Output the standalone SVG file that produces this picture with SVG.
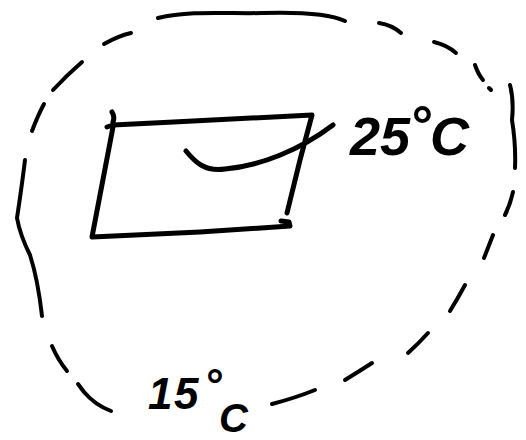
<svg xmlns="http://www.w3.org/2000/svg" width="526" height="440" viewBox="0 0 526 440">
<style>
.ink{fill:none;stroke:#000;stroke-width:5;stroke-linecap:round;stroke-linejoin:round}
.dash{fill:none;stroke:#000;stroke-width:4;stroke-linecap:round;stroke-linejoin:round}
.lbl{font-family:"Liberation Sans",Arial,sans-serif;font-weight:bold;font-style:italic;fill:#000}
</style>
<rect width="526" height="440" fill="#fff"/>
<g id="boundary">
<path class="dash" d="M158,18 C190,10 230,14 262,13 C295,12 328,13 345,21"/>
<path class="dash" d="M379,23 Q392,25 401,33"/>
<path class="dash" d="M434,42 Q447,45 456,53"/>
<path class="dash" d="M475,65 Q478,74 483,80"/>
<path class="dash" d="M489,88 L491,90"/>
<path class="dash" d="M510,85 Q514,100 512,120 Q516,145 515,168"/>
<path class="dash" d="M513,192 Q510,205 505,215"/>
<path class="dash" d="M493,235 L484,258"/>
<path class="dash" d="M465,285 Q458,298 450,311"/>
<path class="dash" d="M428,333 Q418,344 408,353"/>
<path class="dash" d="M372,363 Q358,372 345,380"/>
<path class="dash" d="M315,390 Q295,398 272,404"/>
<path class="dash" d="M111,411 Q95,405 84,392 L78,384"/>
<path class="dash" d="M67,371 Q58,360 52,346"/>
<path class="dash" d="M42,316 Q38,280 30,255 Q20,235 17,218 Q22,185 25,160"/>
<path class="dash" d="M32,131 Q38,115 44,104"/>
<path class="dash" d="M53,90 Q67,75 82,62"/>
<path class="dash" d="M104,44 Q118,36 131,33"/>
</g>
<g id="plate">
<path class="ink" d="M112,112 Q115,117 113,122"/>
<path class="ink" d="M107,127 L113,125 C180,122 250,118 312,115 L300,160 L287,213"/>
<path class="ink" d="M113,127 L92,237 L200,232 L290,226 L289,222 L281,221"/>
</g>
<g id="connectors">
<path class="ink" d="M186,151 C195,162 205,172 225,169 C260,166 300,150 333,125"/>
</g>
<g id="label-25">
<text class="lbl" font-size="54"><tspan x="350" y="155">2</tspan><tspan x="380" y="155">5</tspan><tspan x="409" y="144">°</tspan><tspan x="430" y="155">C</tspan></text>
</g>
<g id="label-15">
<text class="lbl" font-size="44"><tspan x="148" y="409">1</tspan><tspan x="174" y="409">5</tspan><tspan x="204" y="400">°</tspan><tspan x="219" y="432" font-size="40">C</tspan></text>
</g>
</svg>
